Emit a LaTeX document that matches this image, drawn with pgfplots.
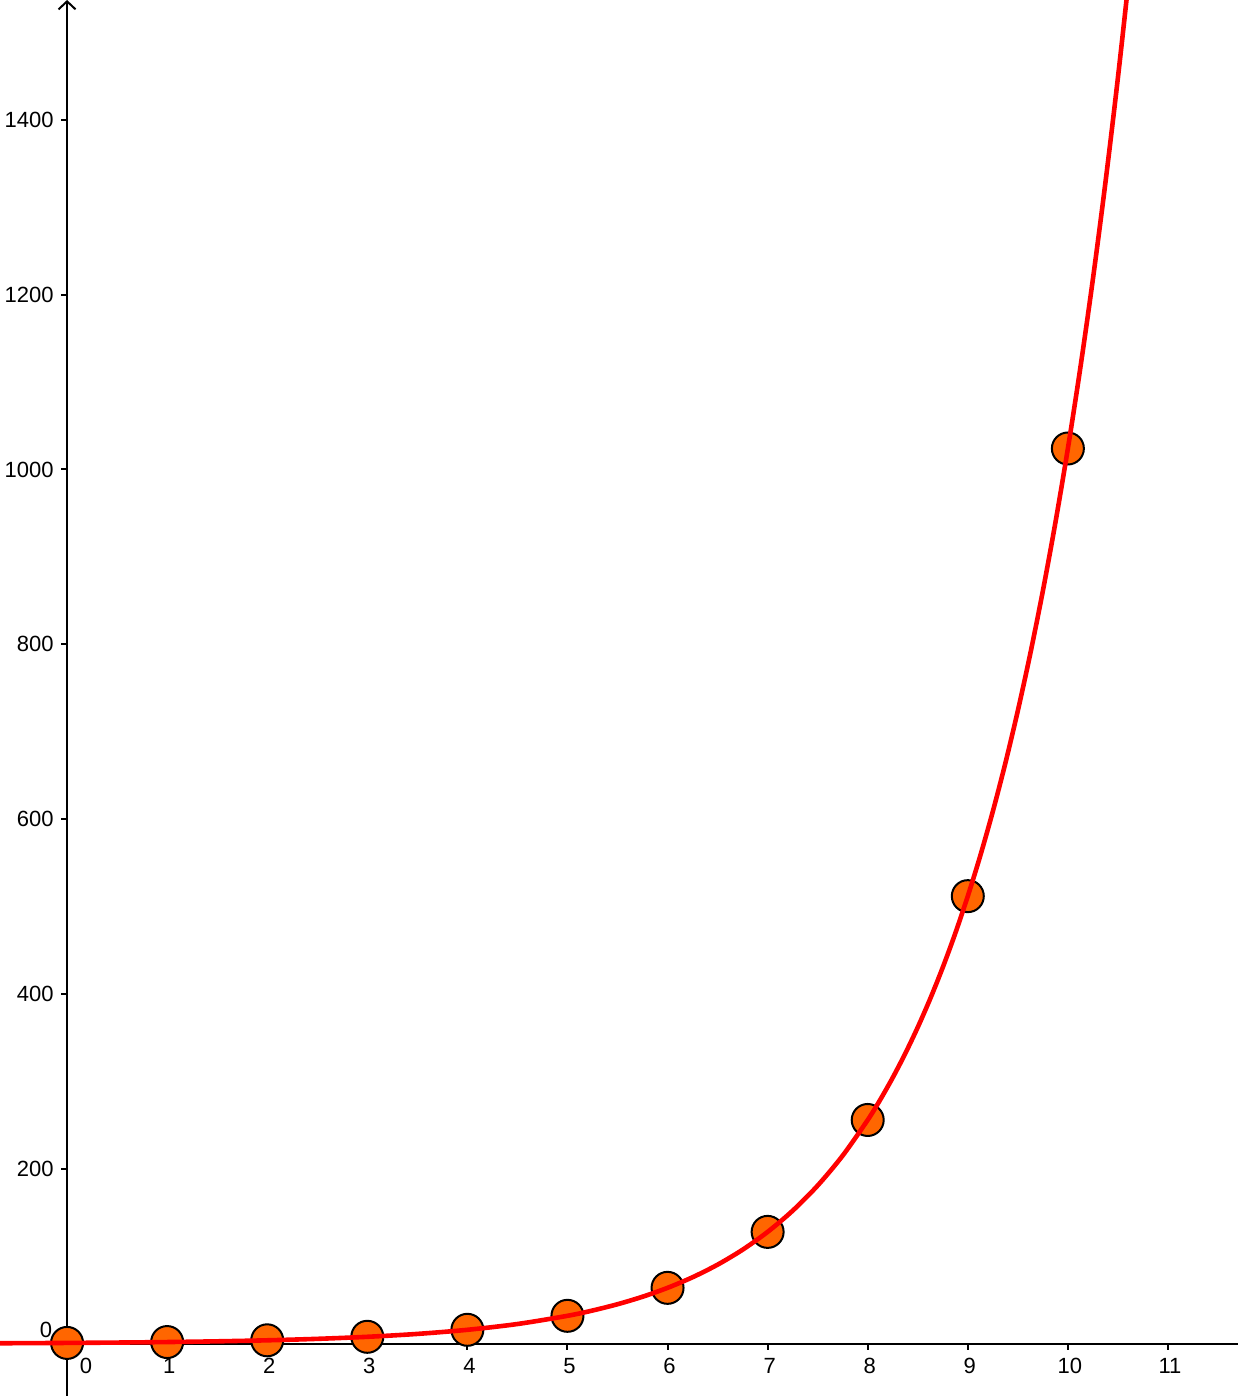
\documentclass[border=0pt]{standalone}
\usepackage{fontspec}
\setmainfont{Liberation Sans}
\usepackage{pgfplots}
\pgfplotsset{compat=1.18}
\usetikzlibrary{arrows.meta}
\definecolor{ptorange}{RGB}{255,102,0}
\begin{document}
\begin{tikzpicture}
\begin{axis}[
  scale only axis, width=619pt, height=698pt,
  xmin=-0.67, xmax=11.70, ymin=-59.7, ymax=1537,
  axis lines=middle,
  axis line style={line width=1pt},
  x axis line style={-},
  y axis line style={-{Straight Barb[length=4pt,width=8.5pt,line width=1pt]}},
  xtick={1,...,11}, ytick={200,400,...,1400},
  tick align=outside, major tick length=3pt,
  tick style={line width=1pt, black},
  /pgf/number format/assume math mode=true,
  /pgf/number format/1000 sep={},
  ticklabel style={font=\fontsize{11}{13}\selectfont},
  xticklabel style={anchor=north, inner sep=4pt, xshift=1pt},
  yticklabel style={anchor=east, inner sep=3.5pt},
  clip=true, clip marker paths=true,
]
\addplot[only marks, mark=*, mark size=8pt, mark options={fill=ptorange, draw=black, line width=1pt}]
  coordinates {(0,1) (1,2) (2,4) (3,8) (4,16) (5,32) (6,64) (7,128) (8,256) (9,512) (10,1024)};
\addplot[red, line width=2.3pt, smooth] coordinates {
  (-0.75,0.59) (-0.5,0.71) (-0.25,0.84) (0,1) (0.5,1.41) (1,2) (1.5,2.83) (2,4) (2.5,5.66) (3,8)
  (3.5,11.31) (4,16) (4.5,22.63) (5,32) (5.25,38.05) (5.5,45.25) (5.75,53.82) (6,64)
  (6.25,76.11) (6.5,90.51) (6.75,107.63) (7,128) (7.25,152.22) (7.5,181.02) (7.75,215.27)
  (8,256) (8.125,279.17) (8.25,304.44) (8.375,331.99) (8.5,362.04) (8.625,394.81) (8.75,430.54)
  (8.875,469.51) (9,512) (9.125,558.34) (9.25,608.87) (9.375,663.98) (9.5,724.08) (9.625,789.62)
  (9.75,861.08) (9.875,939.02) (10,1024) (10.125,1116.68) (10.25,1217.75) (10.375,1327.97)
  (10.5,1448.15) (10.625,1579.27) (10.75,1722.2)};
\node[font=\fontsize{11}{13}\selectfont, inner sep=0pt] at (axis cs:0.19,-25.4) {0};
\node[font=\fontsize{11}{13}\selectfont, inner sep=0pt] at (axis cs:-0.21,15.8) {0};
\end{axis}
\pgfresetboundingbox
\useasboundingbox (current axis.south west) rectangle (current axis.north east);
\end{tikzpicture}
\end{document}
